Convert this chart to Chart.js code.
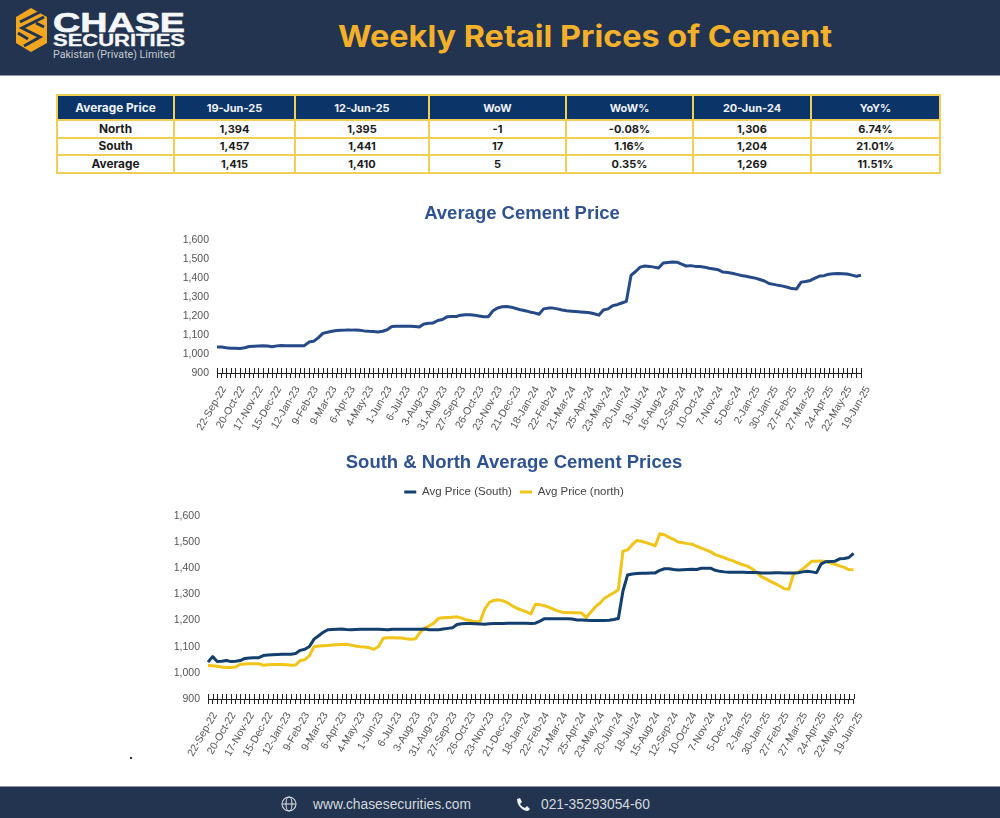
<!DOCTYPE html>
<html>
<head>
<meta charset="utf-8">
<title>Weekly Retail Prices of Cement</title>
<script src="https://cdn.jsdelivr.net/npm/chart.js@4"></script>
<style>
  html, body { margin: 0; padding: 0; background: #fff; }
  body { position: relative; width: 1000px; height: 818px; overflow: hidden; font-family: "Liberation Sans", Arial, sans-serif; }
  .band { position: absolute; left: 0; width: 1000px; background: #22344f; }
  .head { top: 0; height: 75px; border-bottom: 1px solid #8a93a0; }
  .foot { top: 786px; height: 32px; border-top: 1px solid #8a93a0; box-sizing: border-box; }
  table { position: absolute; left: 56px; top: 94px; width: 883px; height: 80px; border-collapse: collapse; table-layout: fixed; border: 2px solid #f0cf55; font-family: Inter, sans-serif; font-size: 11px; font-weight: 700; text-align: center; color: #1c1c1c; }
  th, td { border: 2px solid #f0cf55; padding: 0; }
  th { background: #0b3468; color: #eef2f7; height: 23px; }
  th:first-child, td:first-child { font-size: 11.8px; }
  .box { position: absolute; }
  .dot { position: absolute; left: 130px; top: 757px; width: 2px; height: 2px; background: #333; }
</style>
</head>
<body>
<div class="band head">
  <svg width="1000" height="75" style="position:absolute;left:0;top:0">
    <polygon points="31,8 47,17 47,43 31,52 16,43 16,17" fill="#f2a51e"/>
    <path d="M44,17 L22,28 L40,37 L24,46 M40,12 L20,22 M44,27 L36,23 M18,33 L28,39" stroke="#22344f" stroke-width="3" fill="none"/>
    <text x="53" y="32" font-family="Liberation Sans" font-weight="700" font-size="27" fill="#f4f6f8" stroke="#f4f6f8" stroke-width="0.6" textLength="132" lengthAdjust="spacingAndGlyphs">CHASE</text>
    <text x="53" y="46" font-family="Liberation Sans" font-weight="700" font-size="16" fill="#f4f6f8" stroke="#f4f6f8" stroke-width="0.3" textLength="132" lengthAdjust="spacingAndGlyphs">SECURITIES</text>
    <text x="53" y="58" font-family="Roboto" font-size="10" fill="#c4cad2" textLength="122" lengthAdjust="spacingAndGlyphs">Pakistan (Private) Limited</text>
    <text x="338" y="47" font-family="Inter" font-weight="700" font-size="30" fill="#f5b02a" textLength="494" lengthAdjust="spacingAndGlyphs">Weekly Retail Prices of Cement</text>
  </svg>
</div>

<table id="summary"></table>

<div class="box" style="left:150px;top:195px;width:730px;height:250px"><canvas id="avgChart"></canvas></div>
<div class="box" style="left:150px;top:447px;width:730px;height:320px"><canvas id="regionChart"></canvas></div>
<div class="dot"></div>

<div class="band foot">
  <svg width="1000" height="32" style="position:absolute;left:0;top:0">
    <g stroke="#d5d9de" stroke-width="1.1" fill="none">
      <circle cx="289" cy="17" r="7"/>
      <ellipse cx="289" cy="17" rx="3" ry="7"/>
      <path d="M282,17 H296"/>
    </g>
    <path d="M517,12 L520,11 L522,15 L520,17 C521,19 523,20 525,21 L527,19 L530,22 L528,24 C522,24 517,18 517,12 Z" fill="#eef0f3"/>
    <text x="313" y="21.5" font-family="Liberation Sans" font-size="13.8" fill="#d5d9de">www.chasesecurities.com</text>
    <text x="541" y="21.5" font-family="Liberation Sans" font-size="13.8" fill="#d5d9de">021-35293054-60</text>
  </svg>
</div>

<script>
const tableHead = ["Average Price", "19-Jun-25", "12-Jun-25", "WoW", "WoW%", "20-Jun-24", "YoY%"]
const tableRows = [
  ["North", "1,394", "1,395", "-1", "-0.08%", "1,306", "6.74%"],
  ["South", "1,457", "1,441", "17", "1.16%", "1,204", "21.01%"],
  ["Average", "1,415", "1,410", "5", "0.35%", "1,269", "11.51%"],
]
const columnWidths = [117, 121, 134, 137, 127, 118, 129]

const tickDates = [
  "22-Sep-22", "20-Oct-22", "17-Nov-22", "15-Dec-22", "12-Jan-23", "9-Feb-23",
  "9-Mar-23", "6-Apr-23", "4-May-23", "1-Jun-23", "6-Jul-23", "3-Aug-23",
  "31-Aug-23", "27-Sep-23", "26-Oct-23", "23-Nov-23", "21-Dec-23", "18-Jan-24",
  "22-Feb-24", "21-Mar-24", "25-Apr-24", "23-May-24", "20-Jun-24", "18-Jul-24",
  "16-Aug-24", "12-Sep-24", "10-Oct-24", "7-Nov-24", "5-Dec-24", "2-Jan-25",
  "30-Jan-25", "27-Feb-25", "27-Mar-25", "24-Apr-25", "22-May-25", "19-Jun-25",
]
const tickDatesLower = tickDates.map((d) => (d === "16-Aug-24" ? "15-Aug-24" : d))

const avgPrice = [
  1037, 1037, 1033, 1031, 1030, 1029, 1033, 1040, 1041, 1042,
  1043, 1042, 1038, 1043, 1045, 1044, 1044, 1044, 1044, 1044,
  1063, 1067, 1085, 1109, 1115, 1120, 1124, 1125, 1126, 1126,
  1127, 1125, 1122, 1120, 1119, 1116, 1120, 1128, 1145, 1146,
  1146, 1146, 1146, 1145, 1143, 1158, 1162, 1164, 1177, 1182,
  1196, 1198, 1198, 1205, 1207, 1207, 1205, 1200, 1196, 1197,
  1228, 1243, 1249, 1250, 1247, 1240, 1233, 1228, 1222, 1217,
  1210, 1238, 1242, 1242, 1238, 1232, 1228, 1226, 1224, 1222,
  1220, 1218, 1212, 1205, 1232, 1238, 1255, 1260, 1269, 1278,
  1414, 1435, 1458, 1464, 1462, 1458, 1453, 1480, 1483, 1485,
  1484, 1474, 1464, 1466, 1462, 1461, 1458, 1452, 1448, 1444,
  1432, 1430, 1426, 1420, 1414, 1410, 1405, 1400, 1393, 1385,
  1372, 1367, 1362, 1358, 1352, 1345, 1343, 1379, 1382, 1388,
  1400, 1411, 1413, 1421, 1423, 1424, 1423, 1422, 1416, 1410, 1415,
]
const southPrice = [
  1041, 1062, 1043, 1044, 1047, 1043, 1044, 1047, 1055, 1057,
  1058, 1058, 1066, 1068, 1069, 1070, 1071, 1071, 1071, 1074,
  1086, 1090, 1101, 1129, 1142, 1155, 1165, 1166, 1167, 1168,
  1166, 1165, 1166, 1167, 1167, 1167, 1167, 1167, 1166, 1165,
  1167, 1167, 1167, 1167, 1167, 1167, 1167, 1168, 1165, 1165,
  1165, 1168, 1170, 1172, 1185, 1188, 1189, 1189, 1188, 1187,
  1186, 1188, 1189, 1189, 1189, 1190, 1190, 1190, 1190, 1190,
  1189, 1190, 1198, 1207, 1207, 1207, 1207, 1207, 1207, 1206,
  1202, 1202, 1201, 1200, 1200, 1200, 1200, 1201, 1204, 1208,
  1313, 1374, 1378, 1380, 1381, 1381, 1382, 1382, 1392, 1398,
  1398, 1395, 1393, 1394, 1395, 1396, 1395, 1400, 1400, 1400,
  1392, 1388, 1386, 1385, 1385, 1385, 1385, 1384, 1384, 1384,
  1382, 1382, 1382, 1383, 1383, 1382, 1382, 1382, 1383, 1386,
  1388, 1386, 1383, 1417, 1425, 1426, 1427, 1436, 1437, 1441, 1457,
]
const northPrice = [
  1028, 1027, 1025, 1022, 1020, 1020, 1022, 1033, 1034, 1035,
  1035, 1035, 1029, 1031, 1032, 1032, 1032, 1031, 1029, 1030,
  1047, 1050, 1066, 1100, 1103, 1104, 1105, 1106, 1107, 1108,
  1109, 1106, 1103, 1100, 1099, 1096, 1090, 1101, 1132, 1134,
  1134, 1133, 1133, 1130, 1128, 1130, 1155, 1170, 1180, 1190,
  1209, 1211, 1212, 1213, 1214, 1209, 1203, 1199, 1195, 1195,
  1243, 1269, 1277, 1279, 1275, 1268, 1256, 1247, 1240, 1234,
  1225, 1262, 1260, 1257, 1250, 1243, 1236, 1231, 1231, 1230,
  1230, 1229, 1212, 1232, 1252, 1266, 1285, 1296, 1306, 1318,
  1465, 1470, 1490, 1506, 1503, 1498, 1492, 1486, 1532, 1528,
  1518, 1510, 1500, 1497, 1494, 1492, 1484, 1477, 1470, 1463,
  1452, 1446, 1440, 1433, 1427, 1420, 1413, 1408, 1398, 1384,
  1368, 1359, 1350, 1341, 1332, 1322, 1320, 1379, 1385, 1397,
  1412, 1427, 1427, 1428, 1425, 1420, 1415, 1409, 1403, 1395, 1394,
]

const $table = document.getElementById("summary")
let html = "<colgroup>" + columnWidths.map((w) => `<col style="width:${w}px">`).join("") + "</colgroup>"
html += "<tr>" + tableHead.map((h) => `<th>${h}</th>`).join("") + "</tr>"
tableRows.forEach((row) => {
  html += "<tr>" + row.map((c) => `<td>${c}</td>`).join("") + "</tr>"
})
$table.innerHTML = html

// one category per week, only every 4th one carries a date
const weekLabels = (dates, count) => {
  const out = []
  for (let i = 0; i < count; i++) out.push(i % 4 === 0 ? dates[i / 4] : "")
  return out
}

// the source axis has tick marks that cross the line, chart.js only draws them below
const crossTicks = {
  id: "crossTicks",
  afterDraw(chart) {
    const { ctx, scales: { x } } = chart
    ctx.save()
    ctx.strokeStyle = "#222"
    ctx.lineWidth = 1
    ctx.beginPath()
    x.ticks.forEach((t, i) => {
      const px = Math.round(x.getPixelForTick(i)) + 0.5
      ctx.moveTo(px, x.top - 5)
      ctx.lineTo(px, x.top)
    })
    ctx.stroke()
    ctx.restore()
  },
}

// extra room under the legend, the plot starts lower than the legend ends
const legendGap = {
  id: "legendGap",
  beforeInit(chart) {
    const fit = chart.legend.fit
    chart.legend.fit = function () {
      fit.bind(this)()
      this.height += 8.2
    }
  },
}

const makeOptions = (padLeft, padRight, yWidth, xHeight, title, titlePadding, showLegend) => ({
  responsive: true,
  maintainAspectRatio: false,
  animation: false,
  layout: { padding: { left: padLeft, right: padRight } },
  elements: { point: { radius: 0 }, line: { tension: 0, borderWidth: 3, borderJoinStyle: "round" } },
  plugins: {
    title: {
      display: true,
      text: title,
      color: "#2f5290",
      font: { family: "Liberation Sans", size: 18.5, weight: "bold" },
      padding: titlePadding,
    },
    legend: {
      display: showLegend,
      labels: {
        boxWidth: 12,
        boxHeight: 3,
        padding: 8,
        color: "#444",
        font: { family: "Liberation Sans", size: 11.5 },
        generateLabels: (c) => Chart.defaults.plugins.legend.labels.generateLabels(c).map((l) => ({ ...l, lineWidth: 0 })),
      },
    },
  },
  scales: {
    x: {
      afterFit: (s) => { s.height = xHeight },
      border: { display: true, color: "#222" },
      grid: { drawOnChartArea: false, tickLength: 5, tickColor: "#222" },
      ticks: {
        autoSkip: false,
        minRotation: 60,
        maxRotation: 60,
        labelOffset: 7,
        padding: 6,
        color: "#555",
        font: { family: "Liberation Sans", size: 10.5 },
      },
    },
    y: {
      min: 900,
      max: 1600,
      afterFit: (s) => { s.width = yWidth },
      border: { display: false },
      grid: { display: false },
      ticks: {
        stepSize: 100,
        padding: 0,
        color: "#555",
        font: { family: "Liberation Sans", size: 10.5 },
        callback: (v) => v.toLocaleString("en-US"),
      },
    },
  },
})

new Chart(document.getElementById("avgChart"), {
  type: "line",
  data: {
    labels: weekLabels(tickDates, avgPrice.length),
    datasets: [{ label: "Average", data: avgPrice, borderColor: "#254a87", backgroundColor: "#254a87" }],
  },
  options: makeOptions(33, 19, 34, 72, "Average Cement Price", { top: 8, bottom: 15 }, false),
  plugins: [crossTicks],
})

new Chart(document.getElementById("regionChart"), {
  type: "line",
  data: {
    labels: weekLabels(tickDatesLower, southPrice.length),
    datasets: [
      { label: "Avg Price (South)", data: southPrice, borderColor: "#123f6d", backgroundColor: "#123f6d" },
      { label: "Avg Price (north)", data: northPrice, borderColor: "#f0c419", backgroundColor: "#f0c419" },
    ],
  },
  options: makeOptions(24.5, 26.5, 33.5, 68, "South & North Average Cement Prices", { top: 5, bottom: 4 }, true),
  plugins: [crossTicks, legendGap],
})
</script>
</body>
</html>
